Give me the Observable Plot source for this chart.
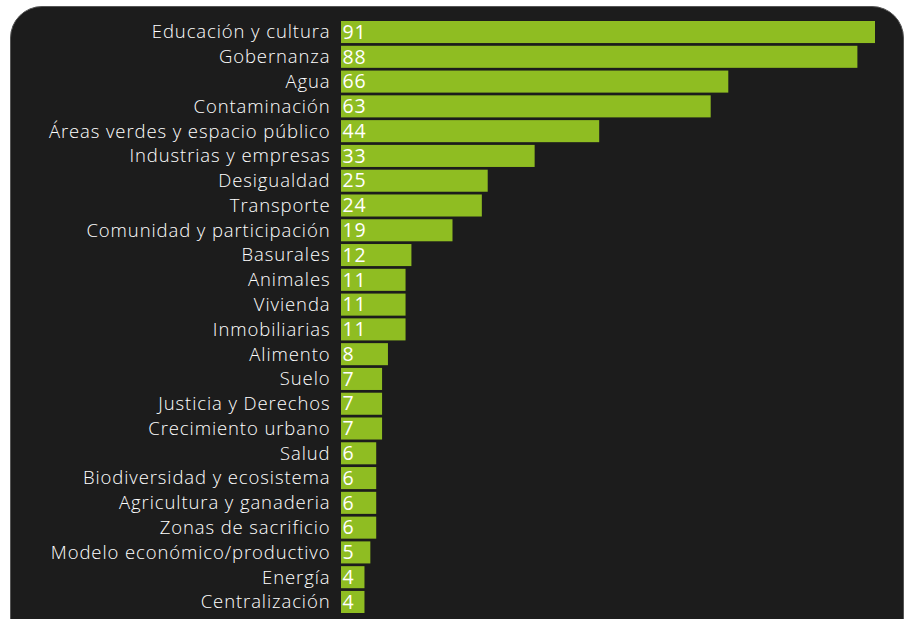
<!DOCTYPE html>
<html><head><meta charset="utf-8">
<script src="https://cdn.jsdelivr.net/npm/d3@7"></script>
<script src="https://cdn.jsdelivr.net/npm/@observablehq/plot@0.6"></script>
<style>
html,body{margin:0;padding:0;background:#fff;width:908px;height:619px;overflow:hidden;}
#card{position:absolute;left:10px;top:6px;width:894px;height:660px;background:#1c1c1c;border-radius:32px;border:1px solid #555;box-sizing:border-box;}
#chart{position:absolute;left:0;top:0;}
</style></head>
<body>
<div id="card"></div>
<div id="chart"></div>
<script>
const categories = ["Educación y cultura","Gobernanza","Agua","Contaminación","Áreas verdes y espacio público","Industrias y empresas","Desigualdad","Transporte","Comunidad y participación","Basurales","Animales","Vivienda","Inmobiliarias","Alimento","Suelo","Justicia y Derechos","Crecimiento urbano","Salud","Biodiversidad y ecosistema","Agricultura y ganaderia","Zonas de sacrificio","Modelo económico/productivo","Energía","Centralización"];
const values = [91,88,66,63,44,33,25,24,19,12,11,11,11,8,7,7,7,6,6,6,6,5,4,4];
const data = categories.map((c,i)=>({category:c,value:values[i]}));
const font = "'Open Sans', sans-serif";
const chart = Plot.plot({
  width: 908, height: 619,
  marginLeft: 341, marginRight: 33, marginTop: 21, marginBottom: 6,
  style: {background: "transparent", color: "#fff", fontFamily: font, fontSize: "18.5px", fontWeight: 300, letterSpacing: "0.9px"},
  x: {domain: [0, 91], axis: null},
  y: {domain: categories, range: [21, 613], round: false, paddingInner: 0.11, paddingOuter: 0, label: null, tickSize: 0, tickPadding: 11},
  marks: [
    Plot.barX(data, {y: "category", x: "value", fill: "#8fbd22"}),
    Plot.text(data, {y: "category", x: 0, text: d => String(d.value), dx: 1, textAnchor: "start", fill: "#fff", fontSize: 19.5, fontWeight: 400})
  ]
});
document.getElementById("chart").appendChild(chart);
</script>
</body></html>
